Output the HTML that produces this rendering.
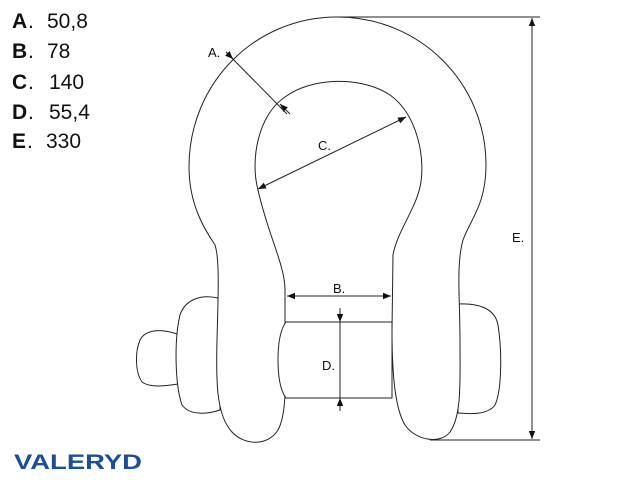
<!DOCTYPE html>
<html><head><meta charset="utf-8"><style>
body{margin:0;background:#fff;width:640px;height:480px;overflow:hidden}
svg{display:block}
</style></head><body>
<svg width="640" height="480" viewBox="0 0 640 480" xmlns="http://www.w3.org/2000/svg">
<defs><marker id="ar" viewBox="0 0 10 10" refX="10" refY="5" markerWidth="8" markerHeight="8" orient="auto-start-reverse"><path d="M0,1 L10,5 L0,9 z" fill="#111"/></marker></defs>
<g font-family="Liberation Sans, sans-serif" font-size="21" fill="#111">
<text x="12" y="28" font-weight="bold">A</text><text x="28" y="28">.</text><text x="47" y="28">50,8</text>
<text x="12" y="58" font-weight="bold">B</text><text x="28" y="58">.</text><text x="47" y="58">78</text>
<text x="12" y="89" font-weight="bold">C</text><text x="28" y="89">.</text><text x="49" y="89">140</text>
<text x="12" y="119" font-weight="bold">D</text><text x="28" y="119">.</text><text x="49" y="119">55,4</text>
<text x="12" y="148" font-weight="bold">E</text><text x="27" y="148">.</text><text x="46" y="148">330</text>
</g>
<text x="14" y="469" font-family="Liberation Sans, sans-serif" font-weight="900" font-size="21" fill="#1c4e96" textLength="128" lengthAdjust="spacingAndGlyphs">VALERYD</text>
<g fill="#fff" stroke="#222" stroke-width="1">
<path d="M177,334 C160,328 145,330 140,340 C135,352 135,372 142,382 C150,388 165,386 178,384 Z"/>
<path d="M218,298 C200,294 185,300 180,315 C174,340 175,385 182,405 C190,416 208,414 220,410 Z"/>
<path d="M458,304 C478,303 495,308 498,325 C502,350 502,390 495,405 C488,415 470,414 458,413 Z"/>
<path d="M337,17 C255,17 189,83 189,167 C189,205 205,230 215,245 C220,260 218,300 217,340 C216,380 216,415 232,432 C245,446 268,446 278,430 C288,412 285,370 285,330 L285,290 C285,265 268,235 258,190 C250,160 258,115 285,97 C310,78 360,75 390,95 C418,115 426,160 420,187 C415,210 397,232 393,255 L392,330 C392,380 396,410 405,425 C415,440 440,445 450,432 C462,415 460,380 460,340 C460,300 456,265 463,240 C470,220 486,205 486,165 C486,83 420,17 337,17 Z"/>
<path d="M286,322 L392,322 L392,398 L286,398 C280,390 278,375 278,360 C278,345 280,330 286,322 Z"/>
</g>
<g stroke="#222" stroke-width="1" fill="none">
<line x1="337" y1="17" x2="540" y2="17"/>
<line x1="430" y1="440" x2="540" y2="440"/>
<line x1="532" y1="18" x2="532" y2="439" marker-start="url(#ar)" marker-end="url(#ar)"/>
<line x1="226" y1="52" x2="287" y2="114"/>
<line x1="226" y1="52" x2="233" y2="59" marker-end="url(#ar)"/>
<line x1="290" y1="114" x2="280" y2="104" marker-end="url(#ar)"/>
<line x1="258" y1="189" x2="406" y2="117" marker-start="url(#ar)" marker-end="url(#ar)"/>
<line x1="287" y1="296" x2="391" y2="296" marker-start="url(#ar)" marker-end="url(#ar)"/>
<line x1="340" y1="308" x2="340" y2="411"/>
<line x1="340" y1="310" x2="340" y2="322" marker-end="url(#ar)"/>
<line x1="340" y1="410" x2="340" y2="398" marker-end="url(#ar)"/>
</g>
<g font-family="Liberation Sans, sans-serif" font-size="13" fill="#111">
<text x="208" y="57">A.</text>
<text x="318" y="150">C.</text>
<text x="333" y="293">B.</text>
<text x="322" y="370">D.</text>
<text x="512" y="242">E.</text>
</g>
</svg>
</body></html>
